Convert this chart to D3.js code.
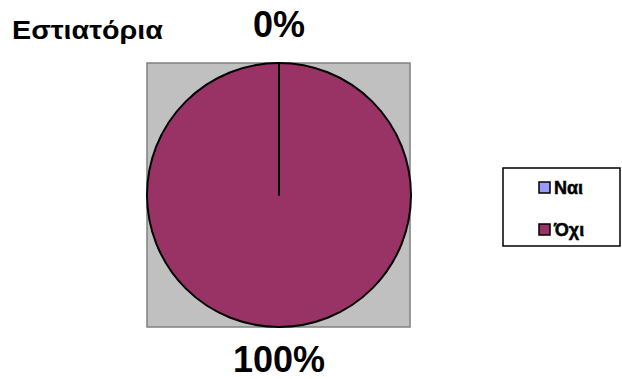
<!DOCTYPE html>
<html>
<head>
<meta charset="utf-8">
<script src="https://cdn.jsdelivr.net/npm/d3@7"></script>
<style>
  html, body { margin: 0; padding: 0; background: #fff; }
  svg { display: block; font-family: Arial, "Liberation Sans", sans-serif; }
  .b { font-weight: 700; }
</style>
</head>
<body>
<svg id="chart" width="622" height="379"></svg>
<script>
// Chart data
const title = "Εστιατόρια";
const categories = ["Ναι", "Όχι"];
const values = [0, 100];
const colors = ["#9999FF", "#993366"];

const svg = d3.select("#chart");

// Plot area (grey square behind the pie)
const plot = { x: 147, y: 63, w: 263, h: 264 };
svg.append("rect")
  .attr("x", plot.x).attr("y", plot.y)
  .attr("width", plot.w).attr("height", plot.h)
  .attr("fill", "#C0C0C0")
  .attr("stroke", "#808080").attr("stroke-width", 1.5);

const cx = 279, cy = 195, r = 132;
const total = d3.sum(values);

const pie = d3.pie().sort(null).value(d => d.value);
const arcs = pie(categories.map((c, i) => ({ name: c, value: values[i], color: colors[i] })));
const arc = d3.arc().innerRadius(0).outerRadius(r);

const g = svg.append("g").attr("transform", `translate(${cx},${cy})`);
// Draw the full slice first, then the zero-width slice so its edge sits on top
const order = arcs.slice().sort((a, b) => b.value - a.value);
g.selectAll("path.slice")
  .data(order)
  .join("path")
  .attr("class", "slice")
  .attr("d", arc)
  .attr("fill", d => d.data.color)
  .attr("stroke", "#000")
  .attr("stroke-width", 2)
  .attr("stroke-linejoin", "round");

// Percentage labels, outside the pie
const fmt = d => Math.round(d.value / total * 100) + "%";
const labelPos = { "Ναι": [cx, 37], "Όχι": [cx, 372] };
svg.selectAll("text.pct")
  .data(arcs)
  .join("text")
  .attr("class", "pct b")
  .attr("x", d => labelPos[d.data.name][0])
  .attr("y", d => labelPos[d.data.name][1])
  .attr("text-anchor", "middle")
  .style("font-size", "36px")
  .attr("fill", "#000")
  .text(fmt);

// Title
svg.append("text")
  .attr("class", "b")
  .attr("x", 12).attr("y", 39)
  .style("font-size", "25px")
  .attr("textLength", 151)
  .attr("lengthAdjust", "spacingAndGlyphs")
  .attr("fill", "#000")
  .text(title);

// Legend
const lg = svg.append("g").attr("transform", "translate(503,168)");
lg.append("rect")
  .attr("width", 117).attr("height", 78)
  .attr("fill", "#fff").attr("stroke", "#000").attr("stroke-width", 1.5);
const items = lg.selectAll("g.item")
  .data(arcs)
  .join("g")
  .attr("class", "item")
  .attr("transform", (d, i) => `translate(36,${14 + i * 42})`);
items.append("rect")
  .attr("width", 11).attr("height", 11)
  .attr("fill", d => d.data.color)
  .attr("stroke", "#000").attr("stroke-width", 1.5);
items.append("text")
  .attr("class", "b")
  .attr("x", 15).attr("y", 12)
  .style("font-size", "18px")
  .attr("fill", "#000")
  .attr("stroke", "#000")
  .attr("stroke-width", 0.5)
  .text(d => d.data.name);
</script>
</body>
</html>
